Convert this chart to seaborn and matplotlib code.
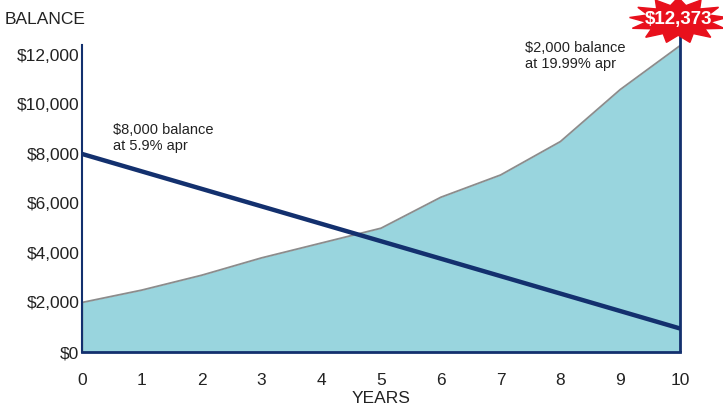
import numpy as np
import matplotlib
matplotlib.use("Agg")
import matplotlib.pyplot as plt
import seaborn as sns
from matplotlib.patches import Polygon

years = [0, 1, 2, 3, 4, 5, 6, 7, 8, 9, 10]
high_apr_balance = [2000, 2500, 3100, 3800, 4400, 5000, 6250, 7150, 8500, 10600, 12373]
low_apr_years = [0, 10]
low_apr_balance = [8000, 950]
y_ticks = [0, 2000, 4000, 6000, 8000, 10000, 12000]
y_labels = ["$0", "$2,000", "$4,000", "$6,000", "$8,000", "$10,000", "$12,000"]

navy = "#13306e"
fill_col = "#99d5de"
txt = "#222222"

sns.set_style("white")
plt.rcParams["font.family"] = ["Liberation Sans", "DejaVu Sans"]

fig = plt.figure(figsize=(7.23, 4.08), dpi=100)
ax = fig.add_axes([82 / 723, 56 / 408, 598 / 723, 307 / 408])

ax.fill_between(years, high_apr_balance, color=fill_col, lw=0)
sns.lineplot(x=years, y=high_apr_balance, ax=ax, color="#8c8c8c", lw=1.3)
sns.lineplot(x=low_apr_years, y=low_apr_balance, ax=ax, color=navy, lw=3.2)
ax.vlines(0, 0, high_apr_balance[0], color="#8c8c8c", lw=1)
ax.vlines(10, 0, 13300, color=navy, lw=2, clip_on=False, zorder=3)

ax.set_xlim(0, 10)
ax.set_ylim(0, 12400)
ax.set_xticks(years)
ax.set_yticks(y_ticks)
ax.set_yticklabels(y_labels)
ax.tick_params(axis="y", length=0, pad=2, labelsize=12.5, labelcolor=txt)
ax.tick_params(axis="x", length=0, pad=15, labelsize=12.5, labelcolor=txt)
ax.set_xlabel("YEARS", fontsize=12.5, color=txt, labelpad=2)
ax.set_ylabel("")

for s in ["top", "right"]:
    ax.spines[s].set_visible(False)
ax.spines["left"].set_color(navy)
ax.spines["left"].set_linewidth(1.5)
ax.spines["bottom"].set_color(navy)
ax.spines["bottom"].set_linewidth(2)

fig.text(5 / 723, 1 - 19 / 408, "BALANCE", fontsize=12.5, color=txt, va="center")
ax.text(0.52, 8050, "$8,000 balance\nat 5.9% apr", fontsize=10.5, color=txt,
        va="bottom", linespacing=1.15)
ax.text(7.4, 11350, "$2,000 balance\nat 19.99% apr", fontsize=10.5, color=txt,
        va="bottom", linespacing=1.15)

# red starburst label
n = 13
ang = np.linspace(0, 2 * np.pi, 2 * n, endpoint=False) + np.pi / 2
r = np.where(np.arange(2 * n) % 2 == 0, 1.0, 0.66)
cx, cy = 9.97, 13400
pts = np.column_stack([cx + 0.82 * r * np.cos(ang), cy + 920 * r * np.sin(ang)])
ax.add_patch(Polygon(pts, closed=True, color="#e8101c", clip_on=False, zorder=5))
ax.text(cx, cy + 30, "$12,373", color="white", fontsize=13.5, fontweight="bold",
        ha="center", va="center", zorder=6, clip_on=False)

fig.savefig("out.png", dpi=100)
